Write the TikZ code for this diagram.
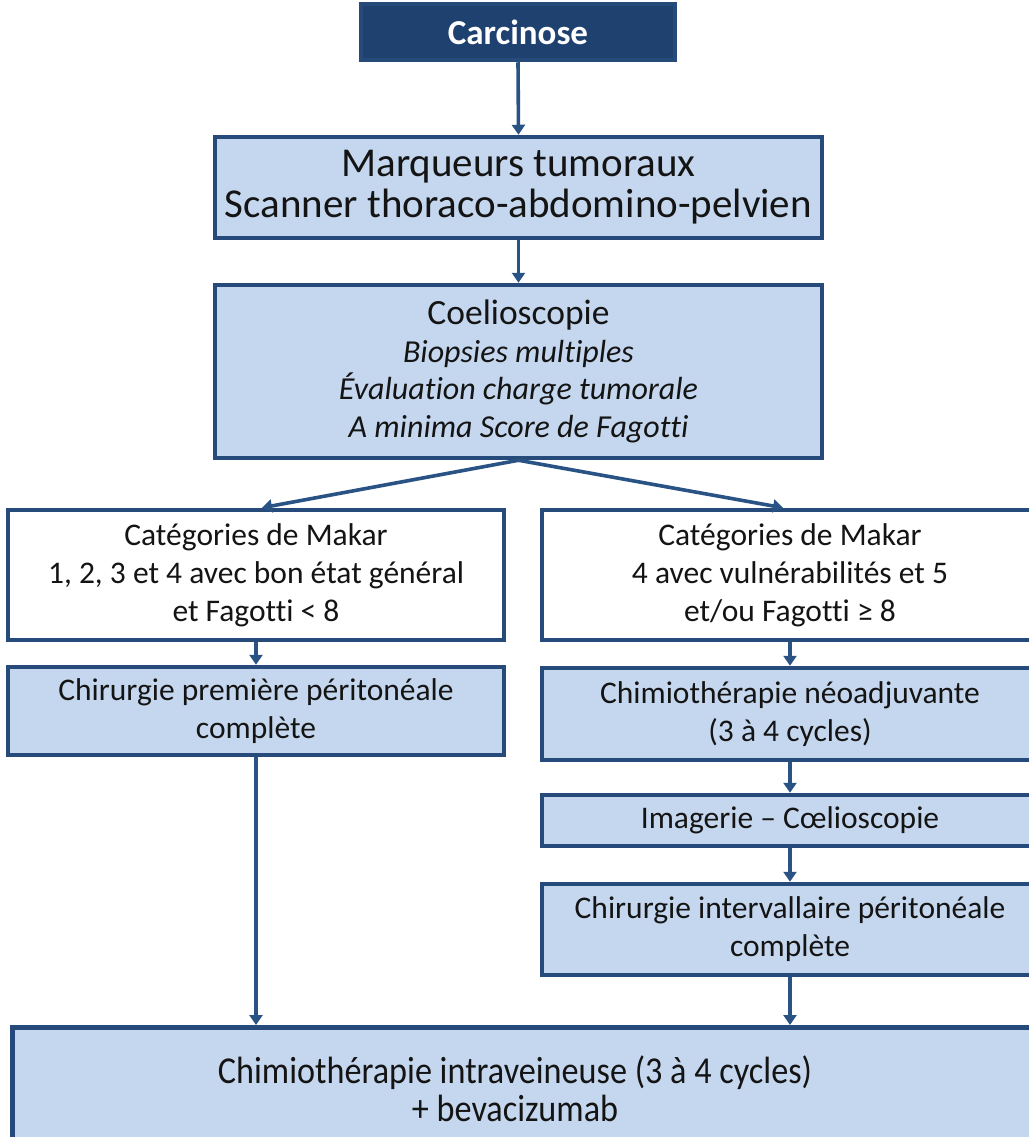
\documentclass[tikz,border=0pt]{standalone}
\usepackage{fontspec}
\setmainfont{Carlito}[Ligatures=NoCommon]
\usetikzlibrary{arrows.meta,calc}
\definecolor{bord}{HTML}{264A7A}
\definecolor{fillb}{HTML}{C5D7EE}
\definecolor{navy}{HTML}{1F4170}
\definecolor{arr}{HTML}{2A5385}
\definecolor{txt}{HTML}{141414}
\begin{document}
\begin{tikzpicture}[x=1pt,y=-1pt,
  box/.style={draw=bord, line width=4.5pt, fill=fillb, rectangle, inner sep=0pt,
    align=center, text=txt, font=\fontsize{31.5}{38}\selectfont},
  wbox/.style={box, fill=white},
  plain/.style={inner sep=0pt, align=center, text=txt},
  arrow/.style={draw=arr, line width=3.6pt, -{Triangle[width=13pt,length=10pt]}},
  ]
\useasboundingbox[fill=white] (0,0) rectangle (1028,1137);

% nodes
\node[box, fill=navy, text=white, minimum width=314, minimum height=56,
  font=\fontsize{35}{40}\selectfont\bfseries] (carc) at (518,32) {Carcinose};
\node[box, minimum width=607, minimum height=101,
  font=\fontsize{41}{41}\selectfont] (marq) at (518.5,187.5)
  {Marqueurs tumoraux\\Scanner thoraco-abdomino-pelvien};
\node[box, minimum width=607, minimum height=173,
  font=\fontsize{32}{37.5}\selectfont] (coel) at (518.5,371.5)
  {{\fontsize{35.5}{37.5}\selectfont Coelioscopie}\\
   \itshape Biopsies multiples\\
   \itshape \'Evaluation charge tumorale\\
   \itshape A minima Score de Fagotti};
\node[wbox, minimum width=496, minimum height=130] (mkL) at (256,575)
  {Catégories de Makar\\1, 2, 3 et 4 avec bon état général\\et Fagotti < 8};
\node[wbox, minimum width=496, minimum height=130] (mkR) at (790,575)
  {Catégories de Makar\\4 avec vulnérabilités et 5\\et/ou Fagotti ≥ 8};
\node[box, minimum width=496, minimum height=88] (chL) at (256,711)
  {Chirurgie première péritonéale\\complète};
\node[box, minimum width=496, minimum height=92] (chimR) at (790,714)
  {Chimiothérapie néoadjuvante\\(3 à 4 cycles)};
\node[box, minimum width=496, minimum height=51] (imag) at (790,820.5)
  {Imagerie – Cœlioscopie};
\node[box, minimum width=496, minimum height=91] (chirR) at (790,929.5)
  {Chirurgie intervallaire péritonéale\\complète};
\node[box, minimum width=1045, minimum height=140, anchor=north west] (bot) at (10,1025) {};
\node[plain, font=\fontsize{38}{38}\selectfont] (botT) at (515,1089)
  {\scalebox{0.9}[1]{Chimiothérapie intraveineuse (3 à 4 cycles)}\\
   \scalebox{0.9}[1]{+ bevacizumab}};

% connectors
\draw[arrow] (carc.south) -- (marq.north);
\draw[arrow] (marq.south) -- (coel.north);
\draw[arrow] (coel.south) -- ($(mkL.north)+(6,0)$);
\draw[arrow] (coel.south) -- ($(mkR.north)+(-7,0)$);
\draw[arrow] (mkL.south) -- (chL.north);
\draw[arrow] (chL.south) -- (chL.south |- bot.north);
\draw[arrow] (mkR.south) -- (chimR.north);
\draw[arrow] (chimR.south) -- (imag.north);
\draw[arrow] (imag.south) -- (chirR.north);
\draw[arrow] (chirR.south) -- (chirR.south |- bot.north);
\end{tikzpicture}
\end{document}
